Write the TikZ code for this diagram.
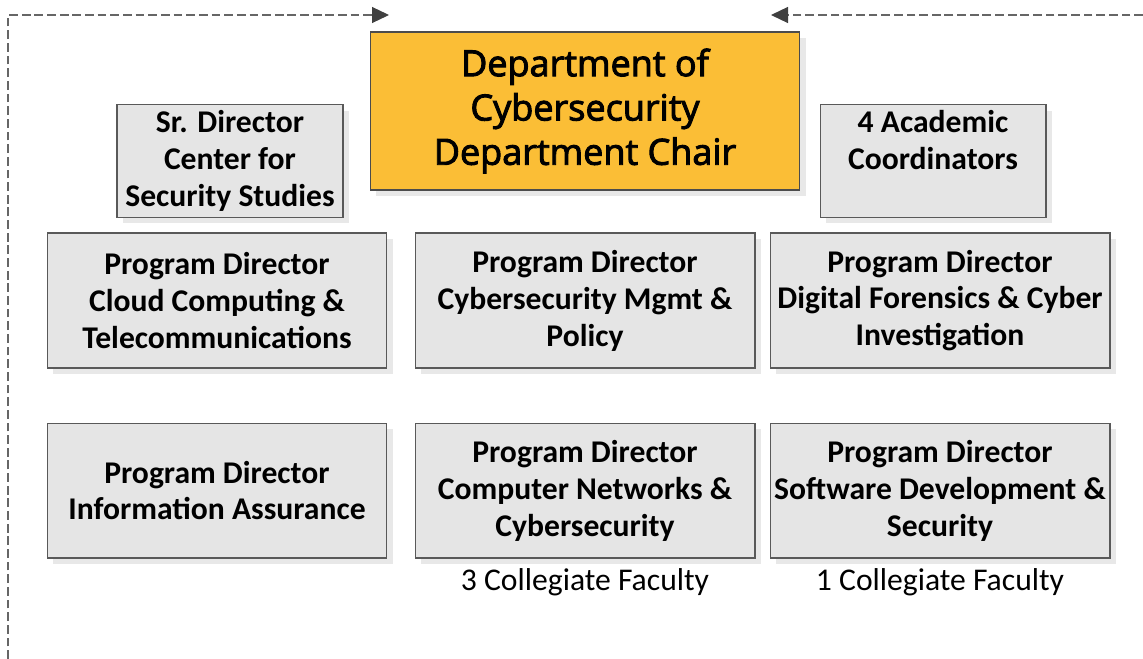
\documentclass[tikz,border=0pt]{standalone}
\usepackage{fontspec}
\setmainfont{Carlito}
\newfontfamily\chairfont[FakeBold=2.6]{Open Sans}
\usetikzlibrary{positioning}
\usetikzlibrary{arrows.meta}
\usetikzlibrary{shadows}
\definecolor{chairYellow}{RGB}{251,190,54}

\begin{document}
\begin{tikzpicture}[x=0.02cm, y=-0.02cm,
    box/.style={draw=black!65, line width=0.6pt, fill=black!10, align=center,
      inner sep=0pt, font=\bfseries\fontsize{18}{21}\selectfont,
      drop shadow={opacity=0.18, shadow xshift=1.2mm, shadow yshift=-1.2mm}},
    chairBox/.style={box, fill=chairYellow, draw=black!70,
      font=\chairfont\fontsize{20.5}{25.2}\selectfont},
    smallBox/.style={box, minimum width=4.52cm, minimum height=2.26cm},
    progBox/.style={box, minimum width=6.8cm, minimum height=2.7cm},
    faculty/.style={font=\fontsize{18}{21}\selectfont},
    loopLine/.style={draw=black!60, line width=0.7pt, dash pattern=on 5pt off 2.2pt,
      -{Triangle[length=0.34cm, width=0.32cm, color=black!75]}},
  ]
    \useasboundingbox (0,0) rectangle (1143,659);

    % top row
    \node[chairBox, minimum width=8.6cm, minimum height=3.16cm] (chair) at (585,111)
      {Department of\\Cybersecurity\\Department Chair};
    \node[smallBox] (srDirector) at (230,161) {Sr. Director\\Center for\\Security Studies};
    \node[smallBox] (coordinators) at (933,161) {4 Academic\\Coordinators\\\vphantom{Sy}};

    % program directors
    \node[progBox] (cloud) at (217,300.5) {Program Director\\Cloud Computing \&\\Telecommunications};
    \node[progBox] (policy) at (585,300.5) {Program Director\\Cybersecurity Mgmt \&\\Policy};
    \node[progBox] (forensics) at (940,300.5) {Program Director\\Digital Forensics \& Cyber\\Investigation};

    \node[progBox, below=1.08cm of cloud] (assurance) {Program Director\\Information Assurance};
    \node[progBox, below=1.08cm of policy] (networks) {Program Director\\Computer Networks \&\\Cybersecurity};
    \node[progBox, below=1.08cm of forensics] (software) {Program Director\\Software Development \&\\Security};

    \node[faculty, below=0.08cm of networks] (facultyNet) {3 Collegiate Faculty};
    \node[faculty, below=0.08cm of software] (facultySoft) {1 Collegiate Faculty};

    % dashed loops into the chair
    \coordinate (loopL) at (8,659);
    \coordinate (tipL) at (389,15);
    \coordinate (loopR) at (1143,15);
    \coordinate (tipR) at (771,15);
    \draw[loopLine] (loopL) |- (tipL);
    \draw[loopLine] (loopR) -- (tipR);
\end{tikzpicture}
\end{document}
